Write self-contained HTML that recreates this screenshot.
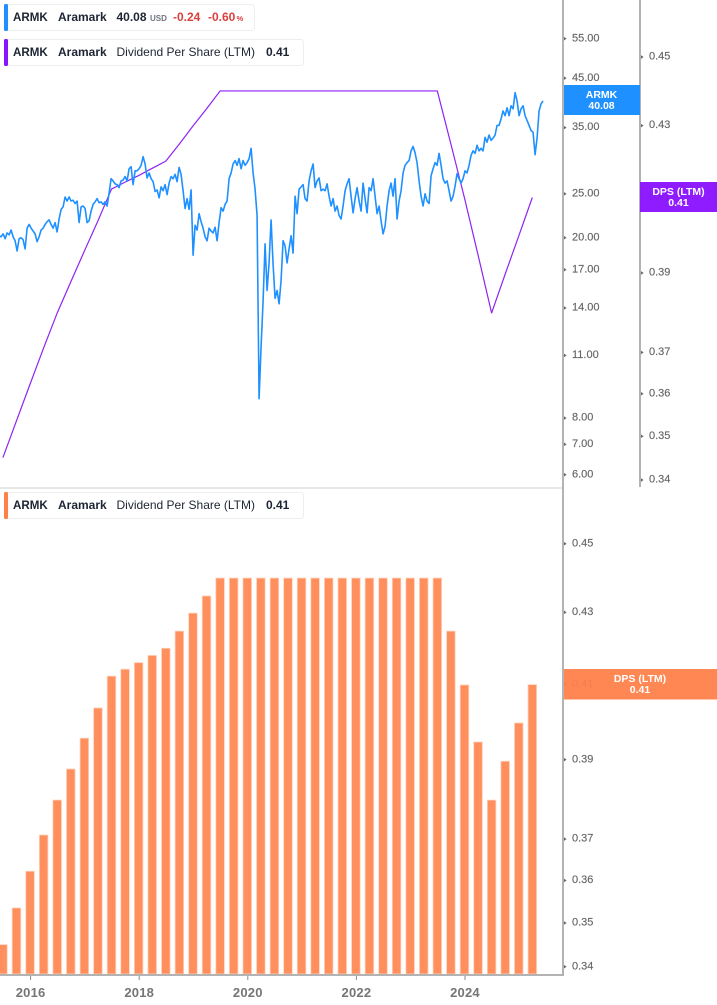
<!DOCTYPE html>
<html lang="en">
<head>
<meta charset="utf-8">
<title>ARMK Aramark chart</title>
<style>
html,body{margin:0;padding:0;background:#fff;width:717px;height:1005px;overflow:hidden}
svg{display:block;font-family:"Liberation Sans",Arial,sans-serif}
.tick-label{font-size:11px;fill:#666;stroke:#666;stroke-width:.15px}
.year-label{font-size:13px;font-weight:700;fill:#757575;letter-spacing:.2px}
.lg{font-size:12px;fill:#1d2433}
.b{font-weight:700}
.tag{font-size:10.5px;font-weight:700;fill:#fff;text-anchor:middle}
</style>
</head>
<body>
<svg id="chart" xmlns="http://www.w3.org/2000/svg" width="717" height="1005" viewBox="0 0 717 1005">
  <defs><clipPath id="plot-clip"><rect x="0" y="0" width="563" height="1005"/></clipPath></defs>
  <rect x="0" y="487" width="563" height="2" fill="#e6e6e6"/>
  <g id="bars" clip-path="url(#plot-clip)"></g>
  <g id="lines" clip-path="url(#plot-clip)"></g>
  <rect x="562" y="0" width="2" height="976" fill="#b3b3b3"/>
  <rect x="639" y="0" width="2" height="487" fill="#b3b3b3"/>
  <rect x="0" y="974" width="564" height="2" fill="#b3b3b3"/>
  <g id="price-axis"></g>
  <g id="dps-axis"></g>
  <g id="bottom-axis"></g>
  <g id="time-axis"></g>

  <g>
    <rect x="4.5" y="4.5" width="250" height="26" rx="3" fill="#fff" stroke="#eeeeee"/>
    <rect x="4" y="4" width="4" height="27" rx="1.5" fill="#1e90ff"/>
    <text x="13" y="21" class="lg b" style="font-size:11.6px">ARMK</text>
    <text x="58" y="21" class="lg b">Aramark</text>
    <text x="116.5" y="21" class="lg b">40.08</text>
    <text x="150" y="21" font-size="8" font-weight="700" fill="#70757f">USD</text>
    <text x="173" y="21" font-size="12" font-weight="700" fill="#d8403f">-0.24</text>
    <text x="208" y="21" font-size="12" font-weight="700" fill="#d8403f">-0.60</text>
    <text x="236.5" y="21" font-size="7.5" font-weight="700" fill="#d8403f">%</text>
  </g>
  <g>
    <rect x="4.5" y="39.5" width="299" height="26" rx="3" fill="#fff" stroke="#eeeeee"/>
    <rect x="4" y="39" width="4" height="27" rx="1.5" fill="#8b14ff"/>
    <text x="13" y="56" class="lg b" style="font-size:11.6px">ARMK</text>
    <text x="58" y="56" class="lg b">Aramark</text>
    <text x="116.5" y="56" class="lg">Dividend Per Share (LTM)</text>
    <text x="266" y="56" class="lg b">0.41</text>
  </g>
  <g>
    <rect x="4.5" y="492.5" width="299" height="26" rx="3" fill="#fff" stroke="#eeeeee"/>
    <rect x="4" y="492" width="4" height="27" rx="1.5" fill="#ff8049"/>
    <text x="13" y="509" class="lg b" style="font-size:11.6px">ARMK</text>
    <text x="58" y="509" class="lg b">Aramark</text>
    <text x="116.5" y="509" class="lg">Dividend Per Share (LTM)</text>
    <text x="266" y="509" class="lg b">0.41</text>
  </g>

  <g>
    <rect x="564" y="85" width="76" height="30" fill="#1e90ff"/>
    <text x="601.5" y="98" class="tag">ARMK</text>
    <text x="601.5" y="109" class="tag">40.08</text>
  </g>
  <g>
    <rect x="640" y="182" width="77" height="30" fill="#8b14ff" fill-opacity=".97"/>
    <text x="678.5" y="195" class="tag">DPS (LTM)</text>
    <text x="678.5" y="206" class="tag">0.41</text>
  </g>
  <g>
    <rect x="564" y="669" width="153" height="30.5" fill="#ff8049" fill-opacity=".94"/>
    <text x="640" y="682" class="tag">DPS (LTM)</text>
    <text x="640" y="693" class="tag">0.41</text>
  </g>
</svg>
<script>
var priceStartYear = 2015.4199;
var priceStepYears = 0.03683;
var priceValues = [
20.2,20.1,20.4,19.9,20.5,20.3,20.8,20.1,19.7,18.7,19.9,20.0,19.8,18.9,21.0,21.4,21.0,20.7,20.4,19.6,
20.1,20.8,21.0,21.4,21.7,21.9,21.4,21.0,21.6,20.6,22.0,23.1,23.4,24.6,24.1,24.6,24.1,24.2,23.8,24.1,
21.6,23.4,23.5,23.2,21.6,21.8,22.9,23.7,24.0,24.4,23.9,24.0,23.7,24.0,23.5,25.1,27.0,26.7,26.3,26.2,
25.8,26.7,26.8,27.3,26.7,28.4,28.7,26.2,28.1,28.1,28.4,28.9,30.2,29.1,27.1,27.8,27.0,26.6,25.3,25.5,
24.5,25.9,25.4,26.2,24.9,26.4,27.3,27.0,27.6,26.6,28.6,27.6,25.4,23.2,24.4,23.1,25.5,18.3,21.3,20.8,
22.6,21.7,21.0,20.1,19.7,21.0,20.7,20.5,21.1,19.7,21.6,23.3,22.9,23.7,24.1,27.0,27.8,29.1,29.6,28.9,
29.9,28.4,29.6,28.9,29.3,29.9,31.5,27.8,25.6,22.4,8.83,11.5,14.5,19.4,15.3,17.6,21.9,17.5,14.7,15.3,
14.3,16.1,19.7,19.2,17.6,18.9,20.2,18.5,24.7,22.6,25.6,25.9,26.2,24.4,24.1,26.7,28.1,29.1,25.8,26.7,
27.1,25.4,25.6,25.4,26.3,24.7,23.5,24.4,22.9,23.5,22.4,22.0,23.5,25.4,26.3,27.0,24.7,22.7,24.4,25.8,
24.1,22.9,26.4,24.4,22.7,25.8,25.4,27.0,24.7,22.6,23.5,21.8,20.4,21.2,23.5,25.4,26.4,24.7,27.0,22.0,
24.1,25.4,27.8,28.9,29.3,29.6,31.1,31.8,30.8,29.3,26.7,24.7,23.5,25.0,24.1,23.8,27.4,28.4,29.3,28.9,
30.7,28.9,27.0,26.4,26.7,25.4,24.1,24.7,26.0,27.7,27.0,26.4,27.0,28.1,27.8,28.9,30.4,31.1,30.7,32.0,
31.1,31.5,31.1,33.3,32.5,33.7,32.8,33.2,33.7,35.4,35.4,36.6,38.1,37.2,38.7,37.2,39.1,38.5,41.8,40.1,
37.2,38.5,39.1,37.2,36.3,35.4,34.5,34.2,30.5,33.2,38.1,39.5,40.08
];
var dpsStartYear = 2015.49;
var dpsStepYears = 0.25;
var dpsValues = [
0.3451,0.3536,0.3623,0.3711,0.3798,0.3877,0.3957,0.4037,0.4123,0.4142,0.4160,0.4180,0.4200,0.4248,0.4299,0.4348,
0.44,0.44,0.44,0.44,0.44,0.44,0.44,0.44,0.44,0.44,0.44,0.44,0.44,0.44,0.44,0.44,0.44,
0.4248,0.4099,0.3947,0.3798,0.3897,0.3997,0.41
];
var priceTicks = [55,45,35,25,20,17,14,11,8,7,6];
var dpsTicks = [0.45,0.43,0.41,0.39,0.37,0.36,0.35,0.34];
var yearTicks = [2016,2018,2020,2022,2024];

var SVG_NS = 'http://www.w3.org/2000/svg';
function xOfYear(t){ return 30.6 + 54.3 * (t - 2016); }
function yOfPrice(p){ return 474.7 - 196.8 * Math.log(p / 6); }
function yOfDpsTop(v){ return 480 - 1509 * Math.log(v / 0.34); }
function yOfDpsBottom(v){ return 966.7 - 1509 * Math.log(v / 0.34); }
function make(tag, attrs, parent){
  var el = document.createElementNS(SVG_NS, tag);
  for (var k in attrs) el.setAttribute(k, attrs[k]);
  parent.appendChild(el);
  return el;
}
function pathFrom(values, start, step, yFn){
  return values.map(function(v, i){
    return (i ? 'L' : 'M') + xOfYear(start + i * step).toFixed(2) + ' ' + yFn(v).toFixed(2);
  }).join('');
}

var lines = document.getElementById('lines');
var dpsLine = make('path', {d: pathFrom(dpsValues, dpsStartYear, dpsStepYears, yOfDpsTop), fill: 'none', stroke: '#8f22f5', 'stroke-width': 1.2, 'stroke-linejoin': 'round'}, lines);


var priceLine = make('path', {d: pathFrom(priceValues, priceStartYear, priceStepYears, yOfPrice), fill: 'none', stroke: '#1e90ff', 'stroke-width': 1.6, 'stroke-linejoin': 'round'}, lines);



var bars = document.getElementById('bars');
dpsValues.forEach(function(v, i){
  var cx = xOfYear(dpsStartYear + i * dpsStepYears);
  var top = yOfDpsBottom(v);
  var bar = make('rect', {x: (cx - 4.3).toFixed(2), y: (top + 0.4).toFixed(2), width: 8.6, height: (973.6 - top).toFixed(2), fill: '#ff8f5c', stroke: '#ffd3bf', 'stroke-width': 0.8}, bars);
  
  
});

function drawTicks(groupId, ticks, yFn, axisX, labelX){
  var g = document.getElementById(groupId);
  ticks.forEach(function(v){
    var y = yFn(v);
    var mark = make('path', {d: 'M' + axisX + ' ' + (y - 1.8).toFixed(2) + 'L' + (axisX + 2.6) + ' ' + y.toFixed(2) + 'L' + axisX + ' ' + (y + 1.8).toFixed(2) + 'Z', fill: '#666'}, g);
    
    
    var label = make('text', {x: labelX, y: (y + 2.6).toFixed(2), 'class': 'tick-label'}, g);
    
    
    label.textContent = v.toFixed(2);
  });
}
drawTicks('price-axis', priceTicks, yOfPrice, 564, 572);
drawTicks('dps-axis', dpsTicks, yOfDpsTop, 641, 649);
drawTicks('bottom-axis', dpsTicks, yOfDpsBottom, 564, 572);

var timeAxis = document.getElementById('time-axis');
yearTicks.forEach(function(yr){
  var x = xOfYear(yr);
  var tick = make('rect', {x: (x - 0.5).toFixed(2), y: 976, width: 1, height: 4, fill: '#8a8a8a'}, timeAxis);
  
  
  var label = make('text', {x: x.toFixed(2), y: 997, 'text-anchor': 'middle', 'class': 'year-label'}, timeAxis);
  
  
  label.textContent = String(yr);
});
</script>
</body>
</html>
